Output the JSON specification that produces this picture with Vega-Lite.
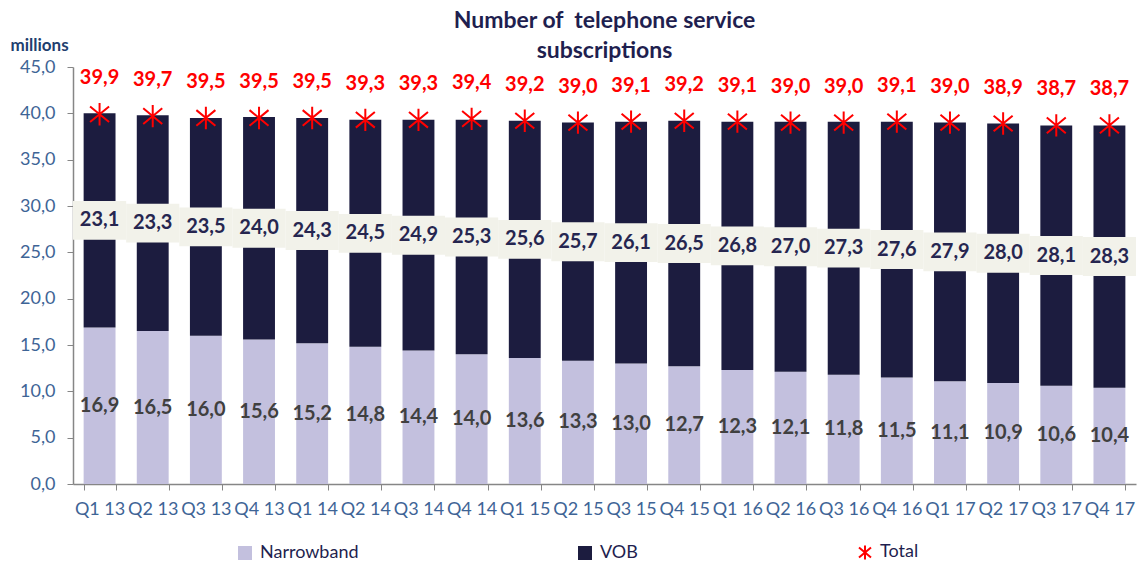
{
  "$schema": "https://vega.github.io/schema/vega-lite/v6.json",
  "width": 1063,
  "height": 417,
  "autosize": {"type": "none"},
  "padding": {"left": 73, "top": 67, "right": 3, "bottom": 84},
  "background": "white",
  "title": {
    "text": ["Number of\u00a0 telephone service", "subscriptions"],
    "font": "Lato",
    "fontSize": 23,
    "fontWeight": "bold",
    "color": "#1F1F4F",
    "lineHeight": 30,
    "anchor": "middle",
    "offset": -27
  },
  "data": {
    "values": [
      {"q": "Q1 13", "Narrowband": 16.9, "VOB": 23.1, "Total": 39.9},
      {"q": "Q2 13", "Narrowband": 16.5, "VOB": 23.3, "Total": 39.7},
      {"q": "Q3 13", "Narrowband": 16.0, "VOB": 23.5, "Total": 39.5},
      {"q": "Q4 13", "Narrowband": 15.6, "VOB": 24.0, "Total": 39.5},
      {"q": "Q1 14", "Narrowband": 15.2, "VOB": 24.3, "Total": 39.5},
      {"q": "Q2 14", "Narrowband": 14.8, "VOB": 24.5, "Total": 39.3},
      {"q": "Q3 14", "Narrowband": 14.4, "VOB": 24.9, "Total": 39.3},
      {"q": "Q4 14", "Narrowband": 14.0, "VOB": 25.3, "Total": 39.4},
      {"q": "Q1 15", "Narrowband": 13.6, "VOB": 25.6, "Total": 39.2},
      {"q": "Q2 15", "Narrowband": 13.3, "VOB": 25.7, "Total": 39.0},
      {"q": "Q3 15", "Narrowband": 13.0, "VOB": 26.1, "Total": 39.1},
      {"q": "Q4 15", "Narrowband": 12.7, "VOB": 26.5, "Total": 39.2},
      {"q": "Q1 16", "Narrowband": 12.3, "VOB": 26.8, "Total": 39.1},
      {"q": "Q2 16", "Narrowband": 12.1, "VOB": 27.0, "Total": 39.0},
      {"q": "Q3 16", "Narrowband": 11.8, "VOB": 27.3, "Total": 39.0},
      {"q": "Q4 16", "Narrowband": 11.5, "VOB": 27.6, "Total": 39.1},
      {"q": "Q1 17", "Narrowband": 11.1, "VOB": 27.9, "Total": 39.0},
      {"q": "Q2 17", "Narrowband": 10.9, "VOB": 28.0, "Total": 38.9},
      {"q": "Q3 17", "Narrowband": 10.6, "VOB": 28.1, "Total": 38.7},
      {"q": "Q4 17", "Narrowband": 10.4, "VOB": 28.3, "Total": 38.7}
    ]
  },
  "transform": [
    {"calculate": "replace(format(datum.Narrowband, '.1f'), '.', ',')", "as": "nbLabel"},
    {"calculate": "replace(format(datum.VOB, '.1f'), '.', ',')", "as": "vobLabel"},
    {"calculate": "replace(format(datum.Total, '.1f'), '.', ',')", "as": "totLabel"},
    {"calculate": "datum.Narrowband / 2", "as": "nbMid"},
    {"calculate": "datum.Narrowband + datum.VOB / 2", "as": "vobMid"},
    {"calculate": "datum.vobMid - 2.1", "as": "bandLo"},
    {"calculate": "datum.vobMid + 2.1", "as": "bandHi"}
  ],
  "encoding": {
    "x": {
      "field": "q",
      "type": "ordinal",
      "sort": null,
      "scale": {"paddingInner": 0.4, "paddingOuter": 0.2},
      "axis": {
        "title": null,
        "labelAngle": 0,
        "labelFont": "Lato",
        "labelFontSize": 18,
        "labelColor": "#3E6496",
        "labelOverlap": false,
        "labelBound": false,
        "labelPadding": 10,
        "tickBand": "extent",
        "tickSize": 6,
        "tickColor": "#868686",
        "domainColor": "#868686",
        "domainWidth": 1.5
      }
    }
  },
  "layer": [
    {
      "transform": [
        {"fold": ["Narrowband", "VOB"], "as": ["series", "value"]},
        {"calculate": "datum.series === 'Narrowband' ? 0 : 1", "as": "ord"}
      ],
      "mark": {"type": "bar"},
      "encoding": {
        "y": {
          "field": "value",
          "type": "quantitative",
          "stack": "zero",
          "scale": {"domain": [0, 45], "nice": false, "zero": true},
          "axis": {
            "values": [0, 5, 10, 15, 20, 25, 30, 35, 40, 45],
            "labelExpr": "replace(format(datum.value, '.1f'), '.', ',')",
            "labelFont": "Lato",
            "labelFontSize": 18,
            "labelColor": "#3E6496",
            "labelPadding": 12,
            "tickSize": 6,
            "tickColor": "#868686",
            "domainColor": "#868686",
            "domainWidth": 1.5,
            "grid": false,
            "title": "millions",
            "titleAngle": 0,
            "titleAlign": "left",
            "titleBaseline": "middle",
            "titleX": -63,
            "titleY": -22,
            "titleFont": "Lato",
            "titleFontSize": 17,
            "titleFontWeight": "bold",
            "titleColor": "#1F3F6F"
          }
        },
        "order": {"field": "ord", "type": "quantitative"},
        "color": {
          "field": "series",
          "type": "nominal",
          "scale": {"domain": ["Narrowband", "VOB", "Total"], "range": ["#C3C0DE", "#1C1C3F", "#FF0000"]},
          "legend": {
            "orient": "none",
            "legendX": 163,
            "legendY": 476,
            "direction": "horizontal",
            "title": null,
            "columnPadding": 216,
            "labelFont": "Lato",
            "labelFontSize": 18,
            "labelColor": "#1F1F4F",
            "labelOffset": 6,
            "symbolSize": 144,
            "encode": {
              "symbols": {
                "update": {
                  "shape": {"signal": "datum.value === 'Total' ? 'M0,-1L0,1M-0.85,-0.7L0.85,0.7M-0.85,0.7L0.85,-0.7' : 'square'"},
                  "fill": {"signal": "datum.value === 'Narrowband' ? '#C3C0DE' : datum.value === 'VOB' ? '#1C1C3F' : 'transparent'"},
                  "stroke": {"signal": "datum.value === 'Total' ? '#FF0000' : 'transparent'"},
                  "strokeWidth": {"value": 2},
                  "size": {"signal": "datum.value === 'Total' ? 200 : 144"},
                  "opacity": {"value": 1}
                }
              }
            }
          }
        }
      }
    },
    {
      "mark": {"type": "bar", "color": "#F2F2EA", "width": {"band": 1.6667}},
      "encoding": {
        "y": {"field": "bandLo", "type": "quantitative"},
        "y2": {"field": "bandHi"}
      }
    },
    {
      "mark": {"type": "text", "font": "Lato", "fontSize": 20, "fontWeight": "bold", "color": "#404040", "baseline": "middle"},
      "encoding": {
        "y": {"field": "nbMid", "type": "quantitative"},
        "text": {"field": "nbLabel"}
      }
    },
    {
      "mark": {"type": "text", "font": "Lato", "fontSize": 20, "fontWeight": "bold", "color": "#262650", "baseline": "middle"},
      "encoding": {
        "y": {"field": "vobMid", "type": "quantitative"},
        "text": {"field": "vobLabel"}
      }
    },
    {
      "mark": {
        "type": "point",
        "shape": "M0,-1L0,1M-0.85,-0.7L0.85,0.7M-0.85,0.7L0.85,-0.7",
        "filled": false,
        "size": 500,
        "strokeWidth": 2,
        "opacity": 1
      },
      "encoding": {
        "y": {"field": "Total", "type": "quantitative"},
        "color": {"datum": "Total"}
      }
    },
    {
      "mark": {"type": "text", "font": "Lato", "fontSize": 20, "fontWeight": "bold", "color": "#FF0000", "baseline": "middle", "dy": -36},
      "encoding": {
        "y": {"field": "Total", "type": "quantitative"},
        "text": {"field": "totLabel"}
      }
    }
  ],
  "config": {
    "view": {"stroke": null},
    "axis": {"grid": false}
  }
}
